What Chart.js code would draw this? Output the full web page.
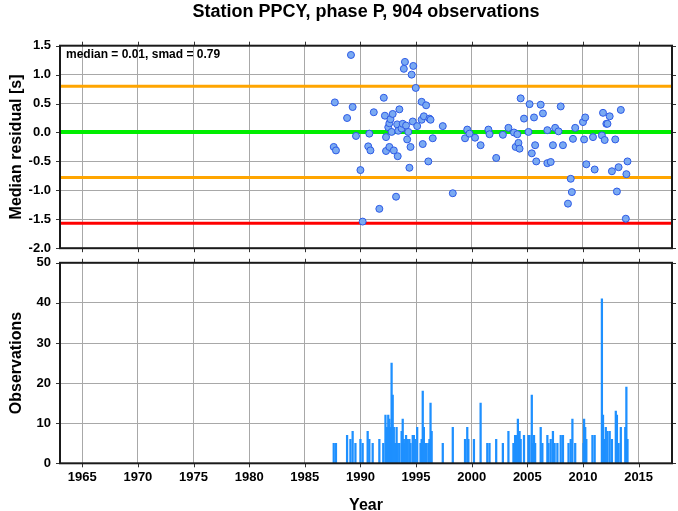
<!DOCTYPE html>
<html>
<head>
<meta charset="utf-8">
<script src="https://cdn.jsdelivr.net/npm/chart.js@4.4.0/dist/chart.umd.min.js"></script>
<style>
html,body{margin:0;padding:0;background:#fff;overflow:hidden;width:678px;height:511px;}
#c1{position:absolute;left:0;top:0;}
#c2{position:absolute;left:0;top:246px;}
</style>
</head>
<body>
<canvas id="c1" width="678" height="265"></canvas>
<canvas id="c2" width="678" height="265"></canvas>
<script>
// ---- data ----
const titleText = "Station PPCY, phase P, 904 observations";
const statsText = "median = 0.01, smad = 0.79";
const medianVal = 0.01;
const smadVal = 0.79;
const xTicks = [1965,1970,1975,1980,1985,1990,1995,2000,2005,2010,2015];
const yTicksTop = [-2.0,-1.5,-1.0,-0.5,0.0,0.5,1.0,1.5];
const yTicksBottom = [0,10,20,30,40,50];

const resYears = [1987.6,1987.7,1987.8,1988.8,1989.15,1989.3,1989.6,1990.0,1990.2,1990.7,1990.8,1990.9,1991.2,1991.7,
 1992.1,1992.2,1992.3,1992.3,1992.5,1992.6,1992.6,1992.7,1992.8,1992.9,1993.0,1993.2,1993.3,1993.35,1993.4,1993.5,
 1993.7,1993.8,1993.9,1994.0,1994.1,1994.2,1994.3,1994.4,1994.5,1994.6,1994.7,1994.75,1994.97,1995.1,1995.5,1995.5,
 1995.6,1995.7,1995.9,1996.1,1996.2,1996.3,1996.5,1997.4,1998.3,1999.4,1999.6,1999.8,2000.3,2000.8,2001.5,2001.6,
 2002.2,2002.8,2003.3,2003.8,2003.95,2004.1,2004.2,2004.3,2004.4,2004.7,2005.1,2005.2,2005.4,2005.6,2005.7,2005.8,
 2006.2,2006.4,2006.8,2006.8,2007.1,2007.3,2007.5,2007.8,2008.0,2008.2,2008.65,2008.9,2009.0,2009.1,2009.3,2010.0,
 2010.1,2010.2,2010.3,2010.9,2011.05,2011.7,2011.8,2011.95,2012.1,2012.2,2012.4,2012.6,2012.9,2013.05,2013.2,2013.4,
 2013.85,2013.9,2014.0];
const resValues = [-0.25,0.52,-0.31,0.25,1.34,0.44,-0.06,-0.65,-1.54,-0.24,-0.02,-0.31,0.35,-1.32,
 0.60,0.29,-0.08,-0.32,0.09,0.16,-0.25,0.23,0.01,0.32,-0.31,-1.11,0.14,-0.41,0.03,0.40,
 0.07,0.15,1.10,1.22,0.12,-0.12,0.01,-0.61,-0.25,1.00,0.19,1.15,0.77,0.11,0.53,0.22,
 -0.20,0.28,0.47,-0.50,0.24,0.22,-0.10,0.11,-1.05,-0.10,0.05,-0.02,-0.09,-0.22,0.05,-0.03,
 -0.44,-0.04,0.08,0.00,-0.25,-0.03,-0.18,-0.28,0.59,0.24,0.01,0.49,-0.36,0.26,-0.22,-0.50,
 0.48,0.33,0.04,-0.53,-0.51,-0.22,0.08,0.02,0.45,-0.22,-1.23,-0.80,-1.03,-0.11,0.08,0.18,
 -0.12,0.26,-0.55,-0.08,-0.64,-0.05,0.34,-0.13,0.15,0.15,0.28,-0.67,-0.12,-1.02,-0.60,0.39,
 -1.49,-0.72,-0.50];

const obsYears = [1987.6,1987.8,1988.8,1989.1,1989.3,1989.55,1990.0,1990.2,1990.65,1990.8,1991.1,1991.7,1992.05,1992.25,
 1992.3,1992.4,1992.5,1992.6,1992.7,1992.8,1992.9,1993.0,1993.1,1993.25,1993.35,1993.5,1993.7,1993.8,1993.9,1994.0,
 1994.1,1994.25,1994.4,1994.5,1994.7,1994.8,1994.9,1995.1,1995.4,1995.5,1995.6,1995.7,1995.9,1996.1,1996.2,1996.3,
 1996.4,1997.4,1998.3,1999.4,1999.6,1999.7,2000.2,2000.8,2001.4,2001.6,2002.2,2002.8,2003.3,2003.75,2003.9,2004.05,
 2004.15,2004.3,2004.4,2004.7,2005.1,2005.2,2005.4,2005.5,2005.6,2005.7,2006.2,2006.35,2006.8,2006.9,2007.1,2007.3,
 2007.45,2007.7,2008.0,2008.2,2008.7,2008.9,2009.05,2009.3,2010.05,2010.1,2010.2,2010.3,2010.85,2011.05,2011.7,2011.8,
 2011.95,2012.05,2012.2,2012.4,2012.6,2012.95,2013.05,2013.2,2013.4,2013.8,2013.9,2014.0];
const obsCounts = [5,5,7,6,8,5,6,5,8,6,5,6,5,12,
 6,9,12,11,9,25,17,9,5,9,5,5,8,11,6,5,
 7,6,6,5,7,7,6,9,5,6,18,9,5,5,6,15,
 8,5,9,6,9,6,6,15,5,5,6,5,8,5,7,7,
 11,8,6,7,7,7,17,5,7,5,9,5,7,5,6,8,
 5,5,7,7,5,6,11,5,5,11,9,6,7,7,41,12,
 6,9,8,8,6,13,12,5,9,9,19,6];

// ---- style ----
Chart.defaults.font.family = "'Liberation Sans', Arial, sans-serif";
Chart.defaults.color = '#000';
const gridColor = '#a8a8a8';
const tickFont = {size: 13, weight: 'bold'};
const axisTitleFont = {size: 16, weight: 'bold'};
const XMIN = 1963, XMAX = 2018;

const framePlugin = {
  id: 'frame',
  afterDraw(chart) {
    const {ctx, chartArea: a, scales} = chart;
    ctx.save();
    ctx.strokeStyle = '#333';
    ctx.lineWidth = 1;
    const tl = 4;
    ctx.beginPath();
    scales.x.ticks.forEach(t => {
      const px = Math.round(scales.x.getPixelForValue(t.value)) + 0.5;
      ctx.moveTo(px, a.top - tl); ctx.lineTo(px, a.top);
      ctx.moveTo(px, a.bottom); ctx.lineTo(px, a.bottom + tl);
    });
    scales.y.ticks.forEach(t => {
      const py = Math.round(scales.y.getPixelForValue(t.value)) + 0.5;
      ctx.moveTo(a.left - tl, py); ctx.lineTo(a.left, py);
      ctx.moveTo(a.right, py); ctx.lineTo(a.right + tl, py);
    });
    ctx.stroke();
    ctx.strokeStyle = '#1a1a1a';
    ctx.lineWidth = 2;
    ctx.strokeRect(a.left, a.top, a.right - a.left, a.bottom - a.top);
    ctx.restore();
  }
};

const statsPlugin = {
  id: 'stats',
  afterDraw(chart) {
    const {ctx, chartArea: a} = chart;
    ctx.save();
    ctx.font = "bold 12px 'Liberation Sans', Arial, sans-serif";
    ctx.fillStyle = '#000';
    ctx.textBaseline = 'middle';
    ctx.textAlign = 'left';
    ctx.fillText(statsText, a.left + 6, a.top + 9);
    ctx.restore();
  }
};

function hline(v, color, w) {
  return {type: 'scatter', data: [{x: XMIN, y: v}, {x: XMAX, y: v}], showLine: true,
          borderColor: color, borderWidth: w, pointRadius: 0, order: 2};
}

const resPoints = resYears.map((x, i) => ({x, y: resValues[i]}));
const obsPoints = obsYears.map((x, i) => ({x, y: obsCounts[i]}));

new Chart(document.getElementById('c1'), {
  type: 'scatter',
  data: {
    datasets: [
      hline(medianVal + smadVal, '#ffa500', 3),
      hline(medianVal - smadVal, '#ffa500', 3),
      hline(medianVal - 2 * smadVal, '#ff0000', 3),
      hline(medianVal, '#00ee00', 4),
      {data: resPoints, pointRadius: 3.5, pointBorderWidth: 1,
       backgroundColor: 'rgb(122,170,242)', borderColor: 'rgb(45,90,230)', order: 1}
    ]
  },
  options: {
    responsive: false, animation: false,
    layout: {padding: {left: 0, right: 6, top: 0, bottom: 0}},
    plugins: {
      legend: {display: false}, tooltip: {enabled: false},
      title: {display: true, text: titleText, fullSize: false,
              font: {size: 18, weight: 'bold'}, color: '#000',
              padding: {top: 1, bottom: 23.1}}
    },
    scales: {
      x: {type: 'linear', min: XMIN, max: XMAX,
          afterBuildTicks: s => { s.ticks = xTicks.map(v => ({value: v})); },
          ticks: {display: false},
          grid: {color: gridColor, drawTicks: false}, border: {display: false},
          afterFit: s => { s.height = 2.7; }},
      y: {min: -2, max: 1.5,
          afterBuildTicks: s => { s.ticks = yTicksTop.map(v => ({value: v})); },
          ticks: {font: tickFont, padding: 9, callback: v => Number(v).toFixed(1)},
          grid: {color: gridColor, drawTicks: false}, border: {display: false},
          title: {display: true, text: 'Median residual [s]', font: axisTitleFont, padding: {top: 7, bottom: 0}},
          afterFit: s => { s.width = 60; }}
    }
  },
  plugins: [framePlugin, statsPlugin]
});

new Chart(document.getElementById('c2'), {
  type: 'bar',
  data: {
    datasets: [{data: obsPoints, backgroundColor: 'rgb(30,144,255)', barThickness: 1.6, borderWidth: 0}]
  },
  options: {
    responsive: false, animation: false,
    layout: {padding: {left: 0, right: 6, top: 8.6, bottom: 0}},
    plugins: {legend: {display: false}, tooltip: {enabled: false}},
    scales: {
      x: {type: 'linear', min: XMIN, max: XMAX, offset: false,
          afterBuildTicks: s => { s.ticks = xTicks.map(v => ({value: v})); },
          ticks: {font: tickFont, padding: 6, maxRotation: 0, autoSkip: false, callback: v => String(v)},
          grid: {color: gridColor, drawTicks: false, offset: false}, border: {display: false},
          title: {display: true, text: 'Year', font: {size: 16, weight: 'bold', lineHeight: 0.7}, padding: {top: 0, bottom: 0}},
          afterFit: s => { s.height = 47.7; }},
      y: {min: 0, max: 50,
          afterBuildTicks: s => { s.ticks = yTicksBottom.map(v => ({value: v})); },
          ticks: {font: tickFont, padding: 9},
          grid: {color: gridColor, drawTicks: false}, border: {display: false},
          title: {display: true, text: 'Observations', font: axisTitleFont, padding: {top: 7, bottom: 0}},
          afterFit: s => { s.width = 60; }}
    }
  },
  plugins: [framePlugin]
});
</script>
</body>
</html>
